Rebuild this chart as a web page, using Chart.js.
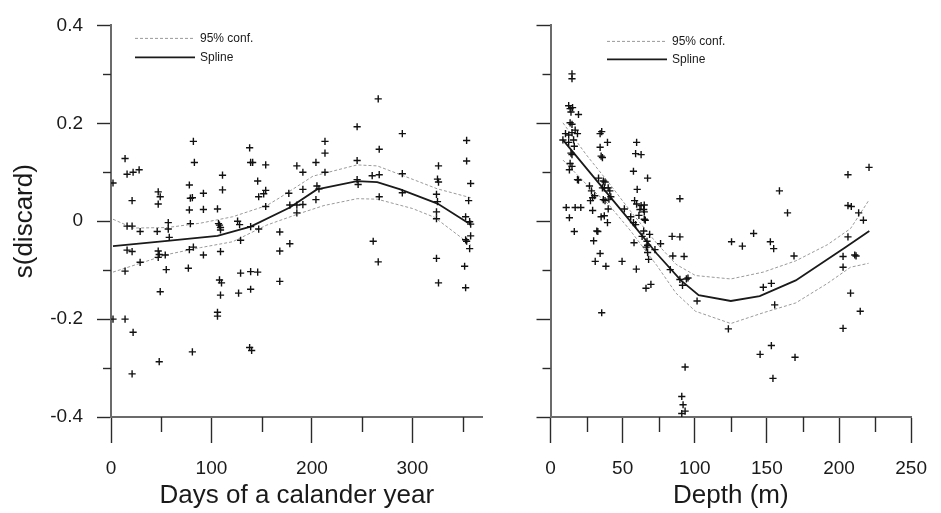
<!DOCTYPE html>
<html><head><meta charset="utf-8">
<script src="https://cdn.jsdelivr.net/npm/chart.js@4.4.1/dist/chart.umd.min.js"></script>
<style>
html,body{margin:0;padding:0;background:#fff;overflow:hidden}
#wrap{position:relative;width:941px;height:513px;background:#fff}
canvas{position:absolute;top:0}
</style></head>
<body><div id="wrap">
<canvas id="c1" width="500" height="513" style="left:0"></canvas>
<canvas id="c2" width="441" height="513" style="left:500px"></canvas>
</div>
<script>
// ---------- DATA ----------
const yLabel = 's(discard)';
const leftTitle = 'Days of a calander year';
const rightTitle = 'Depth (m)';
const yMajorTicks = [-0.4, -0.2, 0, 0.2, 0.4];
const yMinorTicks = [-0.3, -0.1, 0.1, 0.3];
const dayMajorTicks = [0, 100, 200, 300];
const dayMinorTicks = [50, 150, 250, 350];
const depthMajorTicks = [0, 50, 100, 150, 200, 250];
const depthMinorTicks = [25, 75, 125, 175, 225];
const legendLabels = ['95% conf.', 'Spline'];

// Partial residuals vs day of year
const dayX = [2,14,16,22,28,21,47,49,47,82,83,78,79,81,92,78,92,106,111,111,138,139,141,154,146,152,147,154,154,177,185,185,57,79,107,126,128,
  266,245,290,213,213,204,191,213,245,267,290,260,267,245,246,205,207,204,191,178,191,185,267,290,326,325,326,324,325,324,324,354,354,358,356,353,357,
  16,21,29,46,57,58,108,109,109,139,147,129,168,168,178,16,21,29,14,47,48,47,54,55,49,78,82,92,77,109,108,110,109,106,106,129,139,146,127,139,168,2,14,22,81,138,140,48,21,
  261,266,324,326,358,358,353,354,357,352,353];
const dayY = [0.078,0.128,0.096,0.100,0.105,0.042,0.060,0.050,0.035,0.163,0.120,0.074,0.047,0.048,0.057,0.023,0.024,0.025,0.094,0.064,0.150,0.120,0.120,0.115,0.082,0.056,0.050,0.063,0.030,0.057,0.113,0.033,-0.003,-0.005,-0.005,0.000,-0.007,
  0.250,0.193,0.179,0.163,0.139,0.120,0.100,0.100,0.124,0.147,0.097,0.093,0.095,0.085,0.075,0.072,0.066,0.044,0.065,0.033,0.034,0.017,0.050,0.058,0.113,0.086,0.080,0.055,0.040,0.019,0.005,0.165,0.123,0.077,0.042,0.009,-0.001,
  -0.010,-0.010,-0.021,-0.021,-0.016,-0.033,-0.008,-0.013,-0.018,-0.011,-0.016,-0.039,-0.022,-0.061,-0.046,-0.059,-0.062,-0.084,-0.102,-0.061,-0.068,-0.074,-0.069,-0.099,-0.144,-0.058,-0.053,-0.069,-0.096,-0.062,-0.120,-0.126,-0.151,-0.186,-0.194,-0.106,-0.103,-0.104,-0.147,-0.139,-0.123,-0.200,-0.200,-0.227,-0.267,-0.258,-0.264,-0.287,-0.312,
  -0.041,-0.083,-0.076,-0.126,-0.006,-0.030,-0.038,-0.041,-0.056,-0.092,-0.136];
const daySplineX = [2,56,106,139,178,205,245,265,288,325,356];
const daySplineY = [-0.051,-0.040,-0.030,-0.011,0.028,0.065,0.082,0.080,0.065,0.036,-0.004];
const dayUpperX = [2,22,56,89,121,155,168,201,245,265,301,325,358];
const dayUpperY = [0.004,-0.014,-0.013,-0.004,0.009,0.032,0.048,0.092,0.115,0.113,0.085,0.066,0.048];
const dayLowerX = [2,32,56,89,121,155,188,212,245,265,300,322,358];
const dayLowerY = [-0.104,-0.084,-0.068,-0.054,-0.042,-0.008,0.016,0.032,0.046,0.045,0.026,0.008,-0.048];

// Partial residuals vs depth
const depthX = [14.9,14.9,12.6,13.6,14.2,15.3,19.4,13.6,14.9,10.4,12.6,14.9,17.1,18.7,8.6,12.6,16.0,16.5,14.9,14.2,13.6,13.1,14.9,18.7,19.4,
  34.4,35.5,39.5,34.4,35.1,36.0,59.7,59.0,62.8,57.5,67.3,60.1,58.3,59.7,62.8,65.0,62.0,64.6,65.0,33.3,36.6,37.8,36.0,37.3,27.0,28.4,29.2,30.6,27.7,
  40.0,41.1,41.8,40.5,36.6,37.8,40.0,51.2,10.9,17.1,21.0,13.1,29.2,35.1,37.3,39.5,55.6,57.5,
  16.5,32.1,32.8,29.9,34.4,31.0,38.4,59.0,61.3,65.0,65.7,64.6,68.7,63.5,57.9,66.9,67.3,66.4,72.4,67.3,68.0,76.3,84.3,84.8,83.0,49.6,59.5,66.2,69.6,35.5,
  89.7,89.7,92.6,89.7,94.2,95.3,91.5,101.6,93.3,91.0,91.9,93.3,91.0,125.5,133.0,140.8,123.3,152.4,154.7,147.5,153.1,155.4,145.3,153.1,154.2,169.5,158.7,164.3,168.8,
  206.2,220.8,206.2,208.5,213.6,216.9,206.2,202.8,210.9,211.8,202.8,208.0,214.7,202.8];
const depthY = [0.301,0.291,0.236,0.230,0.223,0.232,0.218,0.201,0.198,0.179,0.176,0.181,0.186,0.179,0.166,0.161,0.166,0.153,0.136,0.139,0.118,0.105,0.112,0.085,0.084,
  0.179,0.183,0.161,0.151,0.133,0.130,0.161,0.138,0.136,0.102,0.088,0.065,0.042,0.035,0.032,0.033,0.024,0.024,0.019,0.088,0.082,0.080,0.068,0.068,0.072,0.062,0.048,0.052,0.042,
  0.068,0.062,0.050,0.045,0.044,0.042,0.025,0.025,0.028,0.028,0.028,0.007,0.022,0.009,0.011,-0.003,0.009,-0.003,
  -0.021,-0.020,-0.021,-0.040,-0.066,-0.082,-0.092,-0.007,0.012,0.004,0.002,-0.020,-0.027,-0.031,-0.044,-0.041,-0.049,-0.053,-0.058,-0.064,-0.078,-0.046,-0.031,-0.071,-0.099,-0.082,-0.098,-0.137,-0.129,-0.187,
  -0.032,0.046,-0.072,-0.119,-0.118,-0.116,-0.131,-0.163,-0.298,-0.358,-0.375,-0.388,-0.393,-0.042,-0.051,-0.025,-0.220,-0.042,-0.056,-0.135,-0.127,-0.171,-0.272,-0.254,-0.321,-0.278,0.062,0.017,-0.071,
  0.095,0.110,0.032,0.030,0.017,0.002,-0.032,-0.072,-0.069,-0.071,-0.094,-0.147,-0.184,-0.219];
const depthSplineX = [8.6,30,55.6,73.6,90.4,102.7,125,145,170,204,221];
const depthSplineY = [0.166,0.090,-0.001,-0.066,-0.121,-0.151,-0.163,-0.153,-0.121,-0.054,-0.020];
const depthUpperX = [8.6,25,40,55.6,73.6,87,100.5,125,147.5,170,192,208,220.5];
const depthUpperY = [0.201,0.135,0.080,0.020,-0.045,-0.088,-0.111,-0.118,-0.104,-0.081,-0.048,-0.015,0.042];
const depthLowerX = [8.6,25,40,55.6,73.6,87,100.5,125,147.5,170,192,208,220.5];
const depthLowerY = [0.125,0.075,0.035,-0.020,-0.090,-0.147,-0.184,-0.209,-0.187,-0.167,-0.127,-0.094,-0.086];

// ---------- RENDER ----------
const FONT = "'Liberation Sans', Arial, Helvetica, sans-serif";
const INK = '#1a1a1a';
const AXIS = '#6b6b6b';
const TICK = '#2a2a2a';
Chart.defaults.font.family = FONT;
Chart.defaults.color = INK;

const zip = (xs, ys) => xs.map((x, i) => ({x: x, y: ys[i]}));
const fmt = v => Math.abs(v) < 1e-9 ? '0' : v.toFixed(1);

const decor = {
  id: 'decor',
  afterDraw(chart, args, o) {
    const ctx = chart.ctx, ca = chart.chartArea;
    const xs = chart.scales.x, ys = chart.scales.y;
    ctx.save();
    ctx.strokeStyle = TICK; ctx.lineWidth = 1.4;
    o.xMinor.forEach(v => {
      const p = Math.round(xs.getPixelForValue(v)) + 0.5;
      ctx.beginPath(); ctx.moveTo(p, ca.bottom); ctx.lineTo(p, ca.bottom + o.xMinorLen); ctx.stroke();
    });
    o.yMinor.forEach(v => {
      const p = Math.round(ys.getPixelForValue(v)) + 0.5;
      ctx.beginPath(); ctx.moveTo(ca.left, p); ctx.lineTo(ca.left - o.yMinorLen, p); ctx.stroke();
    });
    // legend
    const ds = chart.data.datasets;
    o.legend.forEach((it) => {
      const d = ds[it.index];
      const y = ca.top + it.dy;
      const x0 = ca.left + o.legendX;
      ctx.beginPath();
      ctx.strokeStyle = d.borderColor; ctx.lineWidth = d.borderWidth;
      ctx.setLineDash(d.borderDash || []);
      ctx.moveTo(x0, y); ctx.lineTo(x0 + o.legendLen, y); ctx.stroke();
      ctx.setLineDash([]);
      ctx.fillStyle = INK; ctx.font = '12px ' + FONT;
      ctx.textBaseline = 'middle'; ctx.textAlign = 'left';
      ctx.fillText(d.label, x0 + o.legendLen + 5, y + 0.5);
    });
    ctx.restore();
  }
};

function makeChart(id, p) {
  return new Chart(document.getElementById(id), {
    type: 'scatter',
    data: {
      datasets: [
        {label: 'data', data: zip(p.px, p.py), showLine: false, pointStyle: 'cross',
         pointRadius: 3.6, pointHoverRadius: 3.6, pointBorderColor: '#111', pointBorderWidth: 1.4, borderColor: '#111', order: 0},
        {label: legendLabels[0], data: zip(p.ux, p.uy), showLine: true, borderColor: '#9a9a9a', borderWidth: 1,
         borderDash: [3, 2], pointRadius: 0, tension: 0, order: 2},
        {label: legendLabels[0], data: zip(p.lx, p.ly), showLine: true, borderColor: '#9a9a9a', borderWidth: 1,
         borderDash: [3, 2], pointRadius: 0, tension: 0, order: 2},
        {label: legendLabels[1], data: zip(p.sx, p.sy), showLine: true, borderColor: '#1a1a1a', borderWidth: 1.8,
         pointRadius: 0, tension: 0, order: 1}
      ]
    },
    options: {
      responsive: false, animation: false, devicePixelRatio: 1,
      layout: {padding: {top: 15, right: p.padRight, left: 0, bottom: 0}},
      plugins: {
        legend: {display: false}, tooltip: {enabled: false},
        decor: {xMinor: p.xMinor, yMinor: yMinorTicks, xMinorLen: 15, yMinorLen: 8,
                legendX: p.legendX, legendLen: 60,
                legend: [{index: 1, dy: p.legendDy[0]}, {index: 3, dy: p.legendDy[1]}]}
      },
      scales: {
        x: {
          type: 'linear', min: 0, max: p.xMax,
          afterBuildTicks: s => { s.ticks = p.xMajor.map(v => ({value: v})); },
          afterFit: s => { s.height = 96; },
          border: {display: true, color: AXIS, width: 2},
          grid: {display: true, drawOnChartArea: false, drawTicks: true, tickLength: 26, tickColor: TICK, tickWidth: 1.4},
          ticks: {padding: 14, maxRotation: 0, autoSkip: false, color: INK, font: {size: 19}, callback: v => String(v)},
          title: {display: true, text: p.title, color: INK, font: {size: 26}, padding: {top: 0, bottom: 2}}
        },
        y: {
          type: 'linear', min: -0.4, max: 0.4,
          afterBuildTicks: s => { s.ticks = yMajorTicks.map(v => ({value: v})); },
          afterFit: s => { s.width = p.yWidth; },
          border: {display: true, color: AXIS, width: 2},
          grid: {display: true, drawOnChartArea: false, drawTicks: true, tickLength: 14, tickColor: TICK, tickWidth: 1.4},
          ticks: {padding: 14, autoSkip: false, color: INK, font: {size: 19}, callback: v => p.yLabels ? fmt(v) : ''},
          title: {display: p.yLabels, text: yLabel, color: INK, font: {size: 26}, padding: {top: 9, bottom: 0}}
        }
      }
    },
    plugins: [decor]
  });
}

makeChart('c1', {
  px: dayX, py: dayY, sx: daySplineX, sy: daySplineY, ux: dayUpperX, uy: dayUpperY, lx: dayLowerX, ly: dayLowerY,
  xMax: 370, xMajor: dayMajorTicks, xMinor: dayMinorTicks, title: leftTitle,
  yWidth: 111, padRight: 17.3, yLabels: true, legendX: 24, legendDy: [13, 32]
});
makeChart('c2', {
  px: depthX, py: depthY, sx: depthSplineX, sy: depthSplineY, ux: depthUpperX, uy: depthUpperY, lx: depthLowerX, ly: depthLowerY,
  xMax: 250, xMajor: depthMajorTicks, xMinor: depthMinorTicks, title: rightTitle,
  yWidth: 50.5, padRight: 18.7, yLabels: false, legendX: 56.5, legendDy: [16, 34]
});
</script>
</body></html>
